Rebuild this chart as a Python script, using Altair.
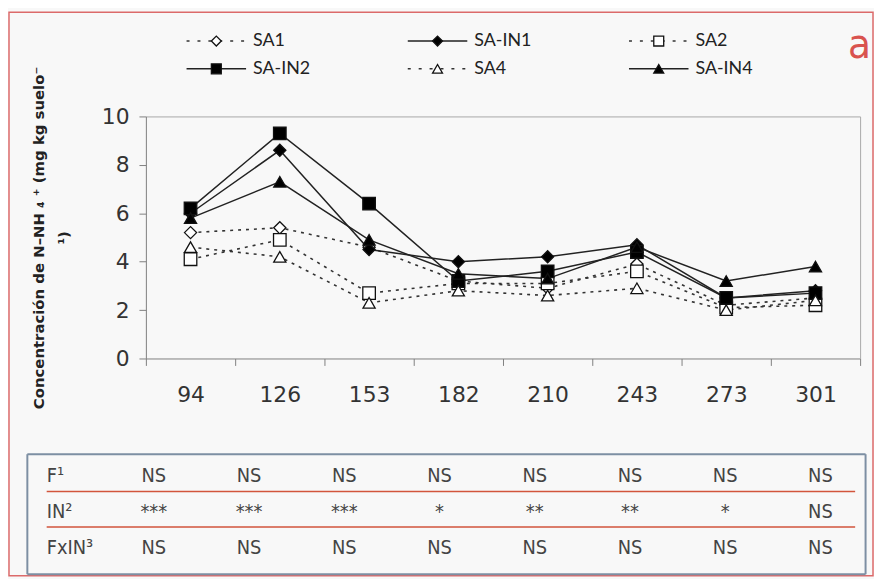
import altair as alt
import pandas as pd

# ---------------- data ----------------
days = ["94", "126", "153", "182", "210", "243", "273", "301"]
series = ["SA1", "SA-IN1", "SA2", "SA-IN2", "SA4", "SA-IN4"]
sa1 = [5.2, 5.4, 4.6, 3.2, 2.9, 3.9, 2.2, 2.5]
sa_in1 = [6.0, 8.6, 4.5, 4.0, 4.2, 4.7, 2.5, 2.8]
sa2 = [4.1, 4.9, 2.7, 3.1, 3.1, 3.6, 2.1, 2.2]
sa_in2 = [6.2, 9.3, 6.4, 3.2, 3.6, 4.4, 2.5, 2.7]
sa4 = [4.6, 4.2, 2.3, 2.8, 2.6, 2.9, 2.0, 2.4]
sa_in4 = [5.8, 7.3, 4.9, 3.5, 3.3, 4.6, 3.2, 3.8]
y_ticks = [0, 2, 4, 6, 8, 10]

table_rows = ["F\u00b9", "IN\u00b2", "FxIN\u00b3"]
f_sig = ["NS", "NS", "NS", "NS", "NS", "NS", "NS", "NS"]
in_sig = ["***", "***", "***", "*", "**", "**", "*", "NS"]
fxin_sig = ["NS", "NS", "NS", "NS", "NS", "NS", "NS", "NS"]

values = {"SA1": sa1, "SA-IN1": sa_in1, "SA2": sa2, "SA-IN2": sa_in2,
          "SA4": sa4, "SA-IN4": sa_in4}
recs = []
for s in series:
    for d, v in zip(days, values[s]):
        recs.append({"day": d, "series": s, "v": v, "inoc": "IN" in s})
df = pd.DataFrame(recs)

leg_df = pd.DataFrame({"series": series,
                       "col": [i % 3 for i in range(len(series))],
                       "row": [i // 3 for i in range(len(series))],
                       "inoc": ["IN" in s for s in series]})

tvals = []
for r, row in enumerate([f_sig, in_sig, fxin_sig]):
    for k, t in enumerate(row, start=1):
        tvals.append({"r": r, "k": k, "txt": t})
tvals = pd.DataFrame(tvals)
tlabels = pd.DataFrame({"r": list(range(len(table_rows))), "k": 0, "lab": table_rows})
seps = pd.DataFrame({"r": [i + 0.5 for i in range(len(table_rows) - 1)],
                     "k0": 0, "k1": len(days)})

# ---------------- styles ----------------
RED = "#dc6a6a"
SEP = "#d2553c"
BOX = "#7d8fa3"
NARROW = "Liberation Sans Narrow, DejaVu Sans Condensed, sans-serif"
MAINFONT = "DejaVu Sans"
W, H = 871, 568
shape_groups = [("diamond", ["SA1", "SA-IN1"]), ("square", ["SA2", "SA-IN2"]),
                ("triangle-up", ["SA4", "SA-IN4"])]
fill_cond = alt.condition("datum.inoc", alt.value("black"), alt.value("white"))

xs = alt.Scale(type="band", domain=days, range=[138, 858], paddingInner=0, paddingOuter=0)
ys = alt.Scale(domain=[0, 10], range=[349, 105], nice=False, zero=True)

x_axis = alt.Axis(orient="bottom", offset=-(H - 349), tickBand="extent", labelFont=MAINFONT,
                  labelFontSize=22, labelColor="#333", labelPadding=19, tickSize=7,
                  domainColor="#808080", tickColor="#808080", title=None, grid=False,
                  labelAngle=0)
y_axis = alt.Axis(orient="left", offset=-138, values=y_ticks, labelFont=MAINFONT,
                  labelFontSize=22, labelColor="#333", labelPadding=10, tickSize=7,
                  domainColor="#808080", tickColor="#808080", grid=False,
                  title=["Concentración de N\u2013NH \u2084 \u207a (mg kg suelo\u207b", "\u00b9)"],
                  titleFont=MAINFONT, titleFontSize=15, titleFontWeight="bold",
                  titleColor="#222", titleLineHeight=25, titlePadding=30)

base = alt.Chart(df)
dotted = base.transform_filter("!datum.inoc").mark_line(
    color="#333", strokeWidth=1.6, strokeDash=[3, 5]).encode(
    x=alt.X("day:O", sort=days, scale=xs, axis=x_axis),
    y=alt.Y("v:Q", scale=ys, axis=y_axis),
    detail="series:N")
solid = base.transform_filter("datum.inoc").mark_line(
    color="#222", strokeWidth=1.5).encode(
    x=alt.X("day:O", sort=days, scale=xs, axis=None),
    y=alt.Y("v:Q", scale=ys, axis=None),
    detail="series:N")
pts = []
for shp, members in shape_groups:
    pts.append(base.transform_filter(alt.FieldOneOfPredicate(field="series", oneOf=members))
               .mark_point(shape=shp, stroke="#111", strokeWidth=1.3, opacity=1,
                           size=160 if shp == "square" else 150)
               .encode(x=alt.X("day:O", sort=days, scale=xs, axis=None),
                       y=alt.Y("v:Q", scale=ys, axis=None),
                       fill=fill_cond))
frame_ax = dict(labels=False, ticks=False, title=None, grid=False,
                domainColor="#a8a8a8", domainWidth=1)
frame = base.mark_point(opacity=0).encode(
    x=alt.X("day:O", sort=days, scale=xs, axis=alt.Axis(orient="top", offset=-105, **frame_ax)),
    y=alt.Y("v:Q", scale=ys, axis=alt.Axis(orient="right", offset=-(W - 858), **frame_ax)))

main = alt.layer(dotted, solid, *pts, frame).resolve_axis(x="independent", y="independent")

# ---------------- legend (drawn through its own scales) ----------------
lx = alt.Scale(domain=[0, 2], range=[209, 655], nice=False, zero=False)
ly = alt.Scale(domain=[0, 1], range=[29, 57], nice=False, zero=False)
lbase = alt.Chart(leg_df)
lenc = dict(x=alt.X("col:Q", scale=lx, axis=None), y=alt.Y("row:Q", scale=ly, axis=None))
leg_dot = lbase.transform_filter("!datum.inoc").mark_rule(
    color="#333", strokeWidth=1.6, strokeDash=[3, 8], xOffset=-30, x2Offset=30).encode(
    x2="col:Q", **lenc)
leg_sol = lbase.transform_filter("datum.inoc").mark_rule(
    color="#222", strokeWidth=1.5, xOffset=-30, x2Offset=30).encode(x2="col:Q", **lenc)
leg_pts = []
for shp, members in shape_groups:
    leg_pts.append(lbase.transform_filter(alt.FieldOneOfPredicate(field="series", oneOf=members))
                   .mark_point(shape=shp, stroke="#111", strokeWidth=1.3, opacity=1, size=100)
                   .encode(fill=fill_cond, **lenc))
leg_txt = lbase.mark_text(align="left", baseline="middle", dx=37, font="Lato", fontSize=18,
                          color="#222").encode(text="series:N", **lenc)
legend_chart = alt.layer(leg_dot, leg_sol, *leg_pts, leg_txt)

# ---------------- table ----------------
tx = alt.Scale(domain=[-1 / 3, 8.4688], range=[18, 863], nice=False, zero=False)
ty = alt.Scale(domain=[-0.6389, 2.7222], range=[445, 566], nice=False, zero=False)
box_ax = dict(labels=False, ticks=False, title=None, grid=False, domainColor=BOX, domainWidth=2)

t_vals = alt.Chart(tvals).mark_text(font=NARROW, fontSize=20, color="#444", baseline="middle").encode(
    x=alt.X("k:Q", scale=tx, axis=alt.Axis(orient="bottom", offset=-2, **box_ax)),
    y=alt.Y("r:Q", scale=ty, axis=alt.Axis(orient="left", offset=-18, **box_ax)),
    text="txt:N")
t_labels = alt.Chart(tlabels).mark_text(font=NARROW, fontSize=20, color="#444", baseline="middle",
                                        align="left", dx=-12).encode(
    x=alt.X("k:Q", scale=tx, axis=alt.Axis(orient="top", offset=-445, **box_ax)),
    y=alt.Y("r:Q", scale=ty, axis=alt.Axis(orient="right", offset=-(W - 863), **box_ax)),
    text="lab:N")
t_seps = alt.Chart(seps).mark_rule(color=SEP, strokeWidth=1.5, xOffset=-12, x2Offset=35,
                                   yOffset=-3).encode(
    x=alt.X("k0:Q", scale=tx, axis=None), x2="k1:Q",
    y=alt.Y("r:Q", scale=ty, axis=None))
table = alt.layer(t_seps, t_vals, t_labels).resolve_axis(x="independent", y="independent")

chart = alt.layer(main, table, legend_chart).resolve_scale(x="independent", y="independent").properties(
    width=W, height=H,
    title=alt.TitleParams("a", anchor="end", frame="group", orient="top", offset=-88,
                          baseline="alphabetic", dx=-2, fontSize=42, font=NARROW,
                          color="#d9534f", fontWeight="normal"),
    autosize=alt.AutoSizeParams(type="none"),
    padding={"left": 1, "top": 2, "right": 1, "bottom": 1},
).configure(background="#f8f8f8").configure_view(stroke=RED, strokeWidth=1.5)

chart.save("out.html", embed_options={"renderer": "svg", "actions": False})
